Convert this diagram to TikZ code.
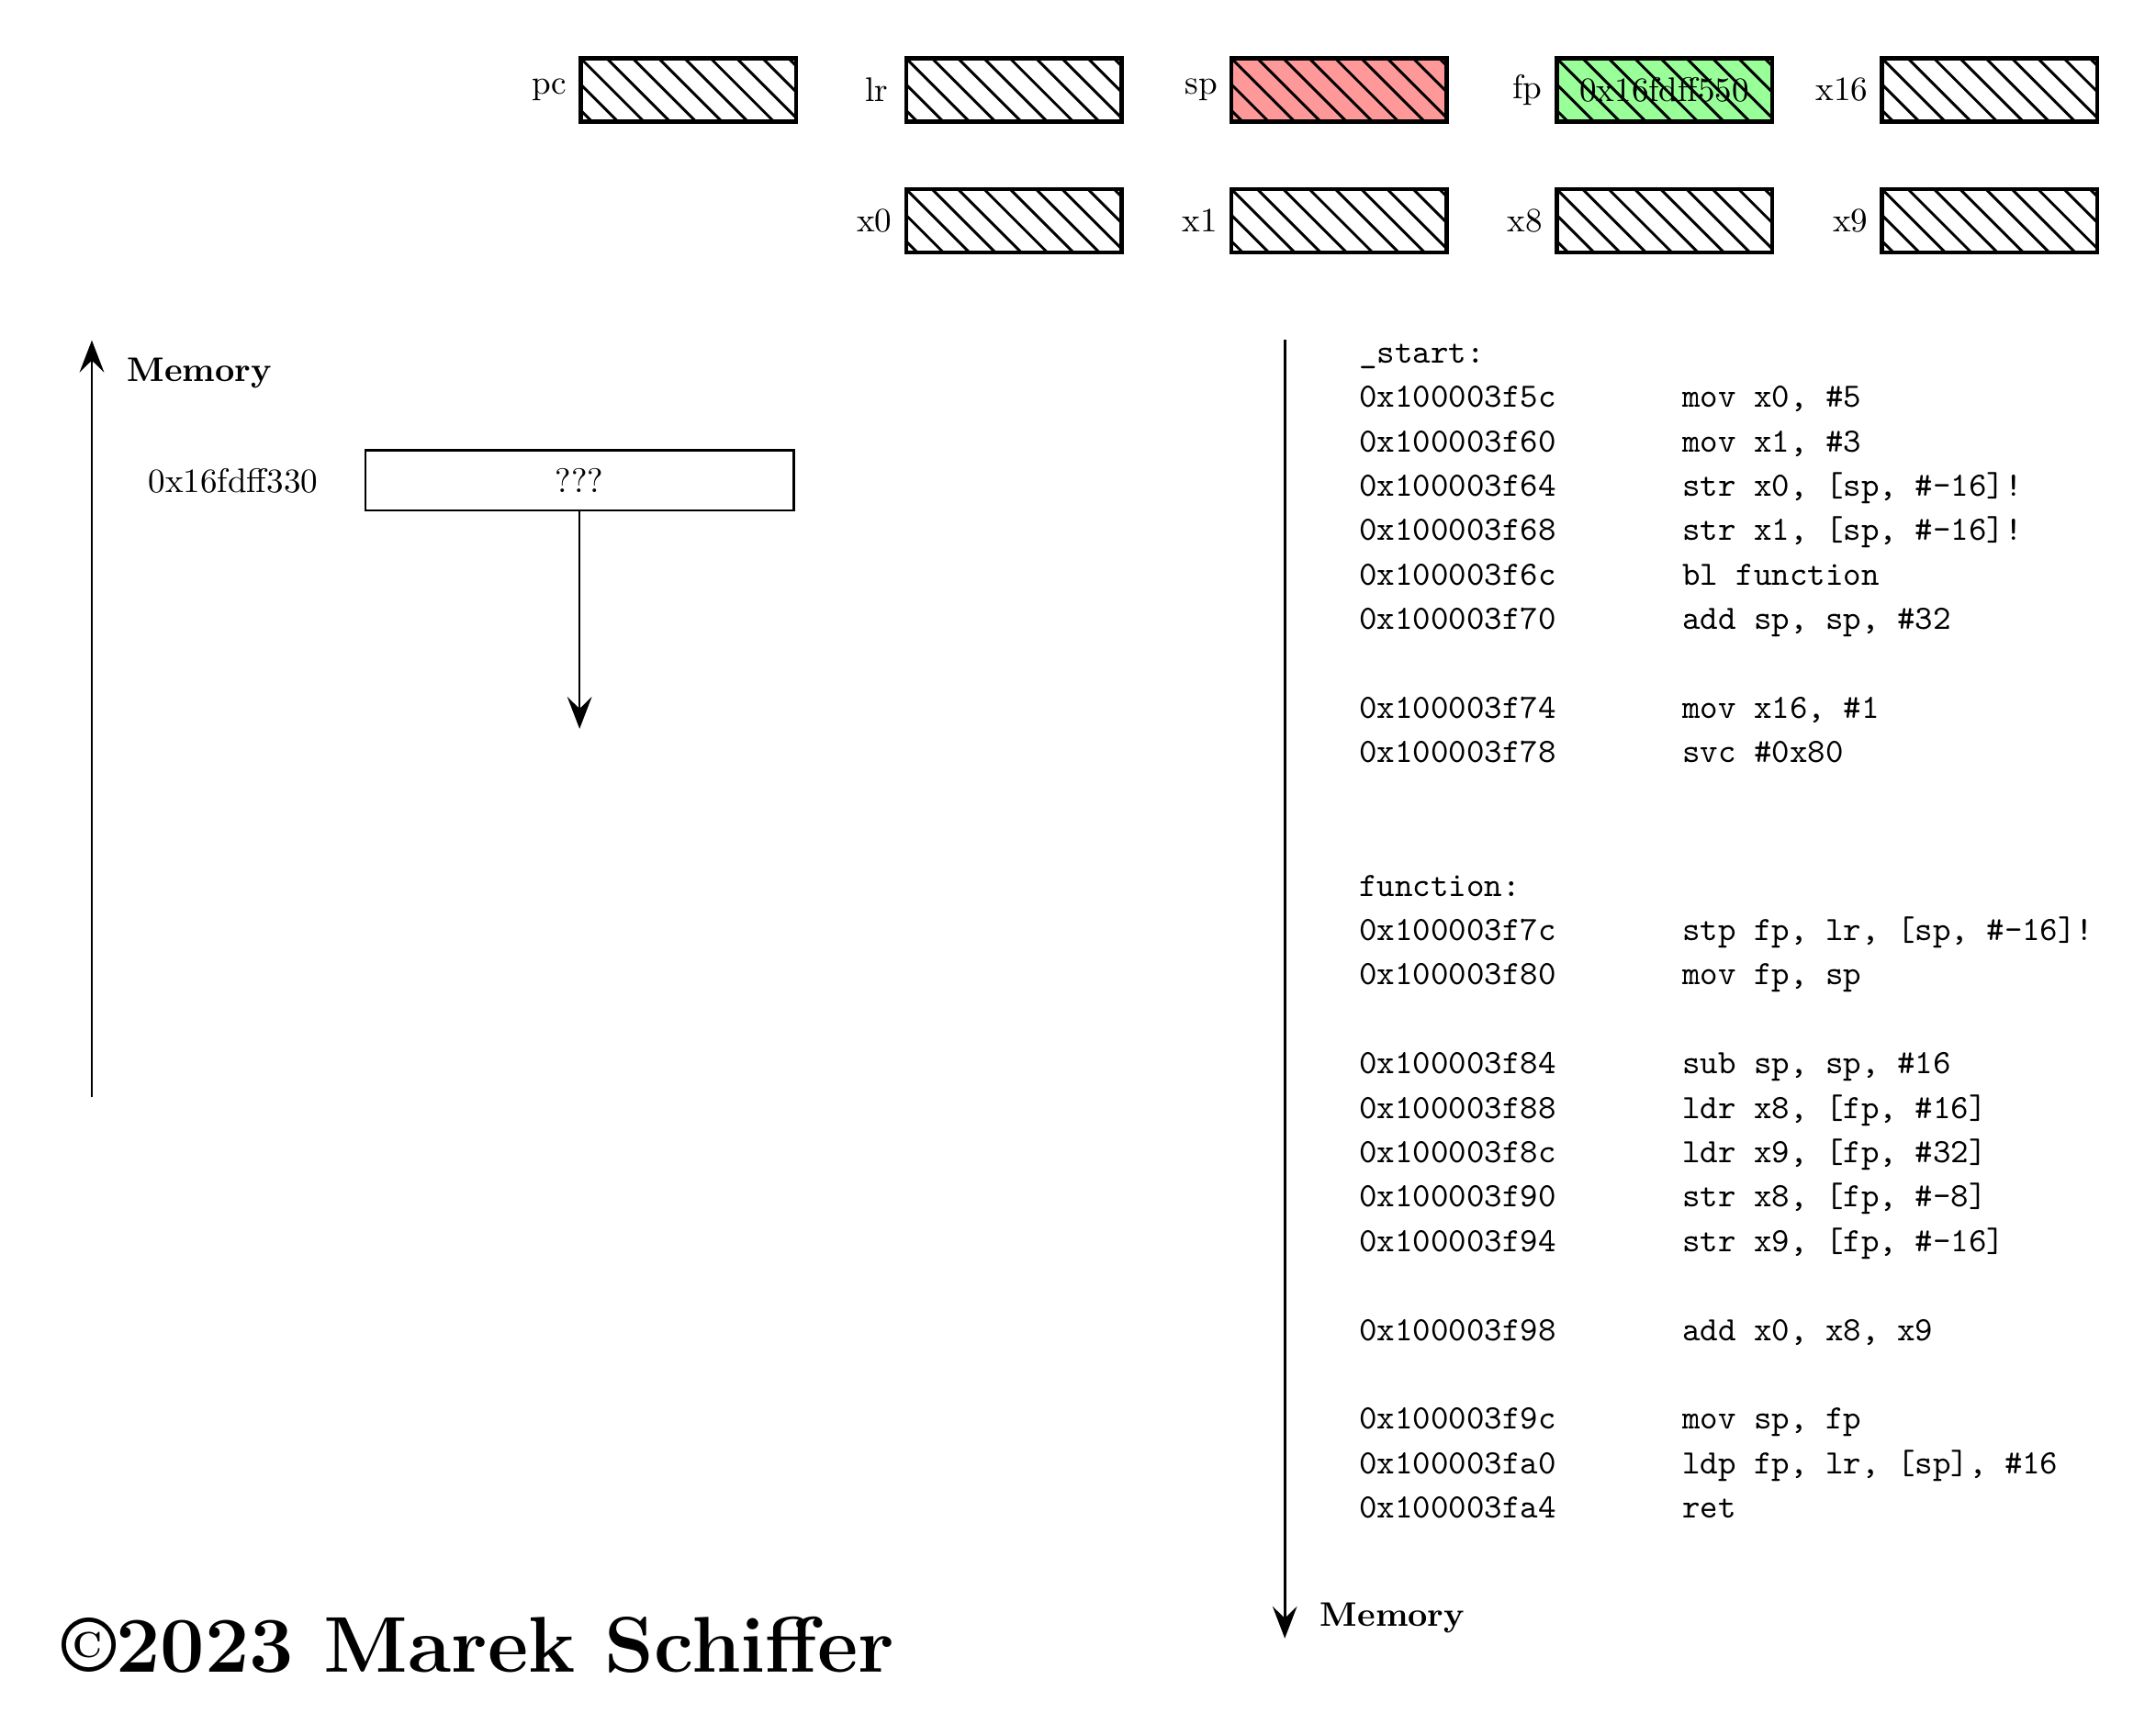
\documentclass[tikz,border=0pt]{standalone}
\usepackage{tikz}
\usetikzlibrary{arrows.meta}
\newcommand{\asmline}[2]{\makebox[3.334cm][l]{#1}#2}

\tikzset{
  reg/.style={draw, line width=1.2pt, minimum width=2.22cm, minimum height=0.65cm,
    inner sep=0pt, label distance=0.06cm,
    path picture={\foreach \k in {-3,...,8}
      \draw[line width=0.8pt] ([xshift=\k*0.268cm]path picture bounding box.north west) -- ++(0.9,-0.9);}},
  every label/.style={minimum width=0.55cm, inner sep=0.333em},
  cell/.style={draw, line width=0.7pt, minimum width=4.42cm, minimum height=0.62cm},
  memlabel/.style={anchor=west, inner sep=0pt, font=\bfseries},
  asm/.style={anchor=base west, inner sep=0pt, font=\ttfamily},
  memarrow/.style={line width=0.7pt, -{Stealth[length=9.4pt,width=7.2pt,inset=3.5pt]}}
}

\begin{document}
\begin{tikzpicture}
   \useasboundingbox (0,0) rectangle (22.235,-17.661);

   % registers
   \node [reg, label=left:pc] (pc) at (7.10,-0.928) {};
   \node [reg, label=left:lr] (lr) at (10.455,-0.928) {};
   \node [reg, fill=red!40, label=left:sp] (sp) at (13.81,-0.928) {};
   \node [reg, fill=green!40, label=left:fp] (fp) at (17.165,-0.928) {0x16fdff550};
   \node [reg, label=left:x16] (x16) at (20.52,-0.928) {};
   \node [reg, label=left:x0] (x0) at (10.455,-2.277) {};
   \node [reg, label=left:x1] (x1) at (13.81,-2.277) {};
   \node [reg, label=left:x8] (x8) at (17.165,-2.277) {};
   \node [reg, label=left:x9] (x9) at (20.52,-2.277) {};

   % stack
   \coordinate (stacklow) at (0.947,-11.32);
   \coordinate (stackhigh) at (0.947,-3.51);
   \draw [memarrow] (stacklow) -- (stackhigh);
   \node [memlabel] (memup) at (1.307,-3.846) {Memory};

   \node [cell] (mem) at (5.977,-4.956) {???};
   \node (addr) at (2.404,-4.956) {0x16fdff330};
   \coordinate (memend) at (5.977,-7.518);
   \draw [memarrow] (mem) -- (memend);

   % code
   \coordinate (codetop) at (13.25,-3.504);
   \coordinate (codelow) at (13.25,-16.90);
   \draw [memarrow] (codetop) -- (codelow);
   \node [memlabel] (memdown) at (13.61,-16.69) {Memory};

   \node [asm] (l0) at (14.01,-3.742) {\_start:};
   \node [asm] (l1) at (14.01,-4.200) {\asmline{0x100003f5c}{mov x0, \#5}};
   \node [asm] (l2) at (14.01,-4.659) {\asmline{0x100003f60}{mov x1, \#3}};
   \node [asm] (l3) at (14.01,-5.117) {\asmline{0x100003f64}{str x0, [sp, \#-16]!}};
   \node [asm] (l4) at (14.01,-5.576) {\asmline{0x100003f68}{str x1, [sp, \#-16]!}};
   \node [asm] (l5) at (14.01,-6.034) {\asmline{0x100003f6c}{bl function}};
   \node [asm] (l6) at (14.01,-6.492) {\asmline{0x100003f70}{add sp, sp, \#32}};
   \node [asm] (l8) at (14.01,-7.409) {\asmline{0x100003f74}{mov x16, \#1}};
   \node [asm] (l9) at (14.01,-7.868) {\asmline{0x100003f78}{svc \#0x80}};

   \node [asm] (l12) at (14.01,-9.243) {function:};
   \node [asm] (l13) at (14.01,-9.701) {\asmline{0x100003f7c}{stp fp, lr, [sp, \#-16]!}};
   \node [asm] (l14) at (14.01,-10.160) {\asmline{0x100003f80}{mov fp, sp}};
   \node [asm] (l16) at (14.01,-11.076) {\asmline{0x100003f84}{sub sp, sp, \#16}};
   \node [asm] (l17) at (14.01,-11.535) {\asmline{0x100003f88}{ldr x8, [fp, \#16]}};
   \node [asm] (l18) at (14.01,-11.993) {\asmline{0x100003f8c}{ldr x9, [fp, \#32]}};
   \node [asm] (l19) at (14.01,-12.452) {\asmline{0x100003f90}{str x8, [fp, \#-8]}};
   \node [asm] (l20) at (14.01,-12.910) {\asmline{0x100003f94}{str x9, [fp, \#-16]}};
   \node [asm] (l22) at (14.01,-13.827) {\asmline{0x100003f98}{add x0, x8, x9}};
   \node [asm] (l24) at (14.01,-14.744) {\asmline{0x100003f9c}{mov sp, fp}};
   \node [asm] (l25) at (14.01,-15.202) {\asmline{0x100003fa0}{ldp fp, lr, [sp], \#16}};
   \node [asm] (l26) at (14.01,-15.660) {\asmline{0x100003fa4}{ret}};

   \node [anchor=base west, inner sep=0pt, font=\fontsize{23.2}{28}\selectfont\bfseries] (copy) at (0.63,-17.25) {\textcopyright 2023 Marek Schiffer};
\end{tikzpicture}
\end{document}
